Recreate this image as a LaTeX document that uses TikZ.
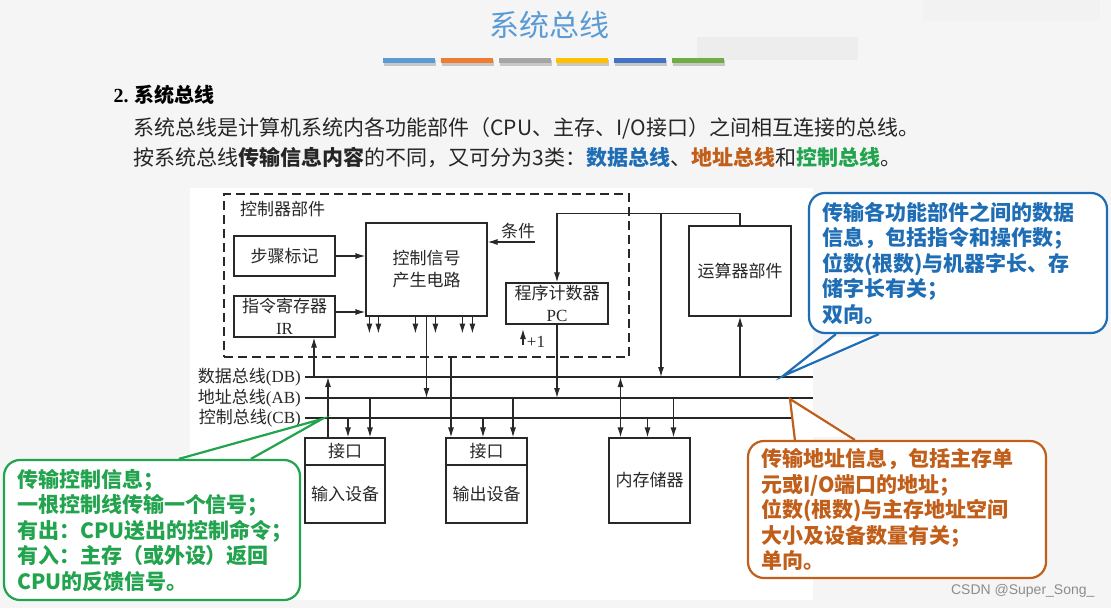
\documentclass[tikz,border=0pt]{standalone}
\usepackage{fontspec}
\setmainfont{Noto Sans CJK SC}
\newfontfamily\tms{Liberation Serif}
\newfontfamily\wmfont{Liberation Sans}
\usetikzlibrary{arrows.meta,positioning,calc}
\definecolor{titleBlue}{RGB}{91,155,213}
\definecolor{dbBlue}{RGB}{31,110,181}
\definecolor{abOrange}{RGB}{192,94,26}
\definecolor{cbGreen}{RGB}{34,163,78}
\definecolor{slideBg}{RGB}{245,245,245}
\definecolor{inkGray}{RGB}{40,40,40}
\definecolor{barBlue}{RGB}{91,155,213}
\definecolor{barOrange}{RGB}{237,125,49}
\definecolor{barGray}{RGB}{165,165,165}
\definecolor{barGold}{RGB}{255,192,0}
\definecolor{barNavy}{RGB}{68,114,196}
\definecolor{barGreen}{RGB}{112,173,71}
\tikzset{
  sbBox/.style={draw=inkGray, line width=1.2pt, fill=white, align=center,
    font=\fontsize{17}{22}\selectfont, text=inkGray, inner sep=0pt},
  sbArr/.style={-{Latex[length=10pt,width=6pt]}, line width=1.2pt, draw=inkGray},
  sbDbl/.style={{Latex[length=10pt,width=6pt]}-{Latex[length=10pt,width=6pt]},
    line width=1.2pt, draw=inkGray},
  sbBus/.style={line width=1.4pt, draw=black!85},
  sbLabel/.style={font=\fontsize{17}{20}\selectfont, text=inkGray, inner sep=0pt},
  %% callout boxes
  sbNote/.style={rounded corners=16pt, line width=2.2pt, fill=white, align=left,
    font=\fontsize{21}{25.5}\selectfont\bfseries, inner xsep=13pt, inner ysep=0pt},
  sbLead/.style={line width=2.2pt, line join=miter},
}
\newcommand{\lat}[1]{{\tms #1}}
\begin{document}
\begin{tikzpicture}[x=1pt, y=-1pt, font=\fontsize{17}{21}\selectfont]
%% Slide background
\fill[slideBg] (0,0) rectangle (1111,608);
\useasboundingbox (0,0) rectangle (1111,608);
\fill[white] (190,188) rectangle (813,600);
\fill[black!7] (697,37) rectangle (858,60);
\fill[black!5] (923,0) rectangle (1100,21);

%% Title and colour bars
\node[font=\fontsize{30}{34}\selectfont, text=titleBlue] (title) at (549,25) {系统总线};
\foreach \c [count=\i] in {barBlue,barOrange,barGray,barGold,barNavy,barGreen}{
  \fill[black!22] ({383+57.8*(\i-1)+1},60) rectangle ++(52,6);
  \fill[\c] ({383+57.8*(\i-1)},58) rectangle ++(52,5);
}

%% Section text
\node[anchor=west, font=\fontsize{20}{24}\selectfont\bfseries] (secHead) at (110,95)
  {\lat{\bfseries 2.} 系统总线};
\node[anchor=west, font=\fontsize{21}{25}\selectfont, text=black!85] (intro1) at (130,128)
  {系统总线是计算机系统内各功能部件（CPU、主存、I/O接口）之间相互连接的总线。};
\node[anchor=west, font=\fontsize{21}{25}\selectfont, text=black!85] (intro2) at (130,157)
  {按系统总线{\bfseries 传输信息内容}的不同，又可分为3类：{\color{dbBlue}\bfseries 数据总线}、{\color{abOrange}\bfseries 地址总线}和{\color{cbGreen}\bfseries 控制总线}。};

%% Controller frame
\node[draw=inkGray, line width=1.2pt, dash pattern=on 9pt off 5pt, minimum width=405,
  minimum height=163, inner sep=0pt] (ctrlFrame) at (426.5,275.5) {};
\node[sbLabel, anchor=west] (ctrlTitle) at (240,209) {控制器部件};
\node[sbBox, minimum width=101, minimum height=40] (stepBox) at (284.5,256) {步骤标记};
\node[sbBox, minimum width=101, minimum height=41] (irBox) at (284.5,316.5) {指令寄存器\\\lat{IR}};
\node[sbBox, minimum width=121, minimum height=93] (sigBox) at (426.5,269.5) {控制信号\\产生电路};
\node[sbBox, minimum width=102, minimum height=41] (pcBox) at (557,303.5) {程序计数器\\\lat{PC}};
\node[sbBox, minimum width=102, minimum height=90] (aluBox) at (740,271) {运算器部件};

%% Buses
\coordinate (DBl) at (305,377); \coordinate (DBr) at (813,377);
\coordinate (ABl) at (305,398); \coordinate (ABr) at (813,398);
\coordinate (CBl) at (305,418); \coordinate (CBr) at (813,418);
\draw[sbBus] (DBl) -- (DBr);
\draw[sbBus] (ABl) -- (ABr);
\draw[sbBus] (CBl) -- (CBr);
\node[sbLabel, anchor=east] (dbName) at (301,377) {数据总线\lat{(DB)}};
\node[sbLabel, anchor=east] (abName) at (301,398) {地址总线\lat{(AB)}};
\node[sbLabel, anchor=east] (cbName) at (301,418) {控制总线\lat{(CB)}};

%% Devices
\node[sbBox, minimum width=80, minimum height=27] (inIf) at (345,451.5) {接口};
\node[sbBox, minimum width=80, minimum height=58] (inDev) at (345,494) {输入设备};
\node[sbBox, minimum width=81, minimum height=27] (outIf) at (486.5,451.5) {接口};
\node[sbBox, minimum width=81, minimum height=58] (outDev) at (486.5,494) {输出设备};
\node[sbBox, minimum width=81, minimum height=85] (memBox) at (649.5,480.5) {内存储器};

%% Controller links
\coordinate (condIn) at (535,242);
\node[sbLabel] (condName) at (518,231) {条件};
\draw[sbArr] (condIn) -- (condIn -| sigBox.east);
\draw[sbArr] (stepBox.east) -- (stepBox.east -| sigBox.west);
\draw[sbArr] ([yshift=4.5]irBox.east) -- ([yshift=4.5]irBox.east -| sigBox.west);
\foreach \dx in {4,13,50,70,97,107}
  \draw[sbArr] ([xshift=\dx]sigBox.south west) -- ++(0,17);
\draw[sbArr] (sigBox.south) -- (sigBox.south |- ABl);
\draw[sbArr] ([xshift=29.5]irBox.south |- DBl) -- ([xshift=29.5]irBox.south);
\draw[sbArr] (pcBox.south) -- (pcBox.south |- ABl);
\coordinate (incPC) at (523,345);
\draw[sbArr] (incPC) -- ++(0,-16);
\node[sbLabel, font=\tms\fontsize{17}{20}\selectfont] (plusOne) at (536,342) {+1};

%% ALU links
\coordinate (aluTap) at (661,214);
\draw[sbArr] (aluBox.north) -- ++(0,-12) -| (pcBox.north);
\draw[sbArr] (aluTap) -- (aluTap |- DBl);
\draw[sbArr] (aluBox.south |- DBl) -- (aluBox.south);

%% Device links
\draw[sbArr] ([xshift=-17]inIf.north) -- ([xshift=-17]inIf.north |- DBl);
\draw[sbArr] ([xshift=3]inIf.north |- CBl) -- ([xshift=3]inIf.north);
\draw[sbArr] ([xshift=25]inIf.north |- ABl) -- ([xshift=25]inIf.north);
\draw[sbArr] ([xshift=-35.5]outIf.north |- ctrlFrame.south) -- ([xshift=-35.5]outIf.north);
\draw[sbArr] ([xshift=-3.5]outIf.north |- CBl) -- ([xshift=-3.5]outIf.north);
\draw[sbArr] ([xshift=26.5]outIf.north |- ABl) -- ([xshift=26.5]outIf.north);
\draw[sbDbl] ([xshift=-29]memBox.north) -- ([xshift=-29]memBox.north |- DBl);
\draw[sbArr] ([xshift=-2]memBox.north |- CBl) -- ([xshift=-2]memBox.north);
\draw[sbArr] ([xshift=24]memBox.north |- ABl) -- ([xshift=24]memBox.north);

%% Data bus note
\node[sbNote, draw=dbBlue, text=dbBlue, minimum width=298, minimum height=140,
  text width=272] (dbNote) at (958,263)
  {传输各功能部件之间的数据\\信息，包括指令和操作数；\\位数(根数)与机器字长、存\\储字长有关；\\双向。};
\coordinate (dbTip) at (783,376);
\fill[white] ([shift={(28,3)}]dbNote.south west) -- (dbTip) -- ([shift={(71,3)}]dbNote.south west) -- cycle;
\draw[sbLead, dbBlue] ([xshift=28]dbNote.south west) -- (dbTip) -- ([xshift=71]dbNote.south west);

%% Address bus note
\node[sbNote, draw=abOrange, text=abOrange, minimum width=298, minimum height=137,
  text width=272] (abNote) at (897,509.5)
  {传输地址信息，包括主存单\\元或I/O端口的地址；\\位数(根数)与主存地址空间\\大小及设备数量有关；\\单向。};
\coordinate (abTip) at (790,399);
\fill[white] ([shift={(48,-3)}]abNote.north west) -- (abTip) -- ([shift={(108,-3)}]abNote.north west) -- cycle;
\draw[sbLead, abOrange] ([xshift=48]abNote.north west) -- (abTip) -- ([xshift=108]abNote.north west);

%% Control bus note
\node[sbNote, draw=cbGreen, text=cbGreen, minimum width=296, minimum height=140,
  text width=270] (cbNote) at (152,530)
  {传输控制信息；\\一根控制线传输一个信号；\\有出：CPU送出的控制命令；\\有入：主存（或外设）返回\\CPU的反馈信号。};
\coordinate (cbTip) at (322,419);
\fill[white] ([shift={(176,-3)}]cbNote.north west) -- (cbTip) -- ([shift={(248,-3)}]cbNote.north west) -- cycle;
\draw[sbLead, cbGreen] ([xshift=176]cbNote.north west) -- (cbTip) -- ([xshift=248]cbNote.north west);

%% Watermark
\node[anchor=east, font=\wmfont\fontsize{14}{16}\selectfont, text=black!45] (mark) at (1098,591) {CSDN @Super\_Song\_};
\end{tikzpicture}
\end{document}
